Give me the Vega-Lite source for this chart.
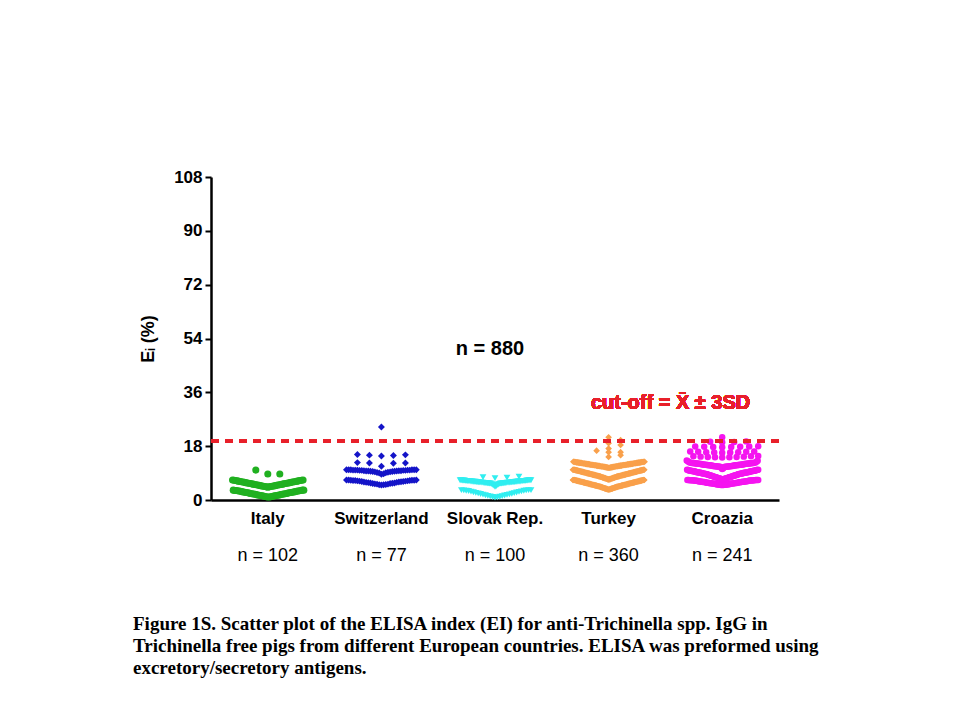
{
  "$schema": "https://vega.github.io/schema/vega-lite/v6.json",
  "width": 568,
  "height": 323,
  "autosize": {"type": "none"},
  "padding": {"left": 211, "top": 177, "right": 181, "bottom": 220},
  "background": "white",
  "config": {
    "view": {"stroke": null},
    "font": "Liberation Sans",
    "axis": {
      "grid": false,
      "domainColor": "black",
      "domainWidth": 2.5,
      "tickColor": "black",
      "tickWidth": 2,
      "labelColor": "black",
      "labelFont": "Liberation Sans",
      "labelFontWeight": "bold",
      "labelFontSize": 17,
      "titleColor": "black",
      "titleFont": "Liberation Sans",
      "titleFontWeight": "bold",
      "titleFontSize": 18
    }
  },
  "title": {
    "text": [
      "Figure 1S. Scatter plot of the ELISA index (EI) for anti-Trichinella spp. IgG in",
      "Trichinella free pigs from different European countries. ELISA was preformed using",
      "excretory/secretory antigens."
    ],
    "orient": "bottom",
    "anchor": "start",
    "frame": "group",
    "dx": -78,
    "offset": 50,
    "font": "Liberation Serif",
    "fontSize": 19,
    "fontWeight": "bold",
    "lineHeight": 22,
    "color": "black"
  },
  "data": {
    "values": [
      {"g":"Italy","v":1},{"g":"Italy","v":1},{"g":"Italy","v":1.1},{"g":"Italy","v":1.1},{"g":"Italy","v":1.2},{"g":"Italy","v":1.2},{"g":"Italy","v":1.3},{"g":"Italy","v":1.3},{"g":"Italy","v":1.4},{"g":"Italy","v":1.4},
      {"g":"Italy","v":1.5},{"g":"Italy","v":1.5},{"g":"Italy","v":1.6},{"g":"Italy","v":1.6},{"g":"Italy","v":1.7},{"g":"Italy","v":1.7},{"g":"Italy","v":1.8},{"g":"Italy","v":1.8},{"g":"Italy","v":1.9},{"g":"Italy","v":1.9},
      {"g":"Italy","v":2},{"g":"Italy","v":2},{"g":"Italy","v":2.1},{"g":"Italy","v":2.1},{"g":"Italy","v":2.2},{"g":"Italy","v":2.2},{"g":"Italy","v":2.3},{"g":"Italy","v":2.3},{"g":"Italy","v":2.4},{"g":"Italy","v":2.4},
      {"g":"Italy","v":2.5},{"g":"Italy","v":2.5},{"g":"Italy","v":2.6},{"g":"Italy","v":2.6},{"g":"Italy","v":2.7},{"g":"Italy","v":2.7},{"g":"Italy","v":2.8},{"g":"Italy","v":2.8},{"g":"Italy","v":2.9},{"g":"Italy","v":2.9},
      {"g":"Italy","v":3},{"g":"Italy","v":3},{"g":"Italy","v":3.1},{"g":"Italy","v":3.1},{"g":"Italy","v":3.2},{"g":"Italy","v":3.2},{"g":"Italy","v":3.2},{"g":"Italy","v":3.3},{"g":"Italy","v":3.3},{"g":"Italy","v":3.3},
      {"g":"Italy","v":4.3},{"g":"Italy","v":4.4},{"g":"Italy","v":4.4},{"g":"Italy","v":4.5},{"g":"Italy","v":4.5},{"g":"Italy","v":4.6},{"g":"Italy","v":4.6},{"g":"Italy","v":4.7},{"g":"Italy","v":4.7},{"g":"Italy","v":4.8},
      {"g":"Italy","v":4.8},{"g":"Italy","v":4.9},{"g":"Italy","v":4.9},{"g":"Italy","v":5},{"g":"Italy","v":5},{"g":"Italy","v":5.1},{"g":"Italy","v":5.1},{"g":"Italy","v":5.2},{"g":"Italy","v":5.2},{"g":"Italy","v":5.3},
      {"g":"Italy","v":5.3},{"g":"Italy","v":5.4},{"g":"Italy","v":5.4},{"g":"Italy","v":5.5},{"g":"Italy","v":5.5},{"g":"Italy","v":5.6},{"g":"Italy","v":5.6},{"g":"Italy","v":5.7},{"g":"Italy","v":5.7},{"g":"Italy","v":5.8},
      {"g":"Italy","v":5.8},{"g":"Italy","v":5.9},{"g":"Italy","v":5.9},{"g":"Italy","v":6},{"g":"Italy","v":6},{"g":"Italy","v":6.1},{"g":"Italy","v":6.1},{"g":"Italy","v":6.2},{"g":"Italy","v":6.2},{"g":"Italy","v":6.3},
      {"g":"Italy","v":6.3},{"g":"Italy","v":6.4},{"g":"Italy","v":6.4},{"g":"Italy","v":6.5},{"g":"Italy","v":6.5},{"g":"Italy","v":6.6},{"g":"Italy","v":6.6},{"g":"Italy","v":6.7},{"g":"Italy","v":6.7},
      {"g":"Italy","v":8.7},{"g":"Italy","v":8.7},{"g":"Italy","v":10},

      {"g":"Switzerland","v":5},{"g":"Switzerland","v":5.1},{"g":"Switzerland","v":5.1},{"g":"Switzerland","v":5.2},{"g":"Switzerland","v":5.3},{"g":"Switzerland","v":5.3},{"g":"Switzerland","v":5.4},{"g":"Switzerland","v":5.5},{"g":"Switzerland","v":5.5},{"g":"Switzerland","v":5.6},
      {"g":"Switzerland","v":5.7},{"g":"Switzerland","v":5.7},{"g":"Switzerland","v":5.8},{"g":"Switzerland","v":5.9},{"g":"Switzerland","v":5.9},{"g":"Switzerland","v":6},{"g":"Switzerland","v":6},{"g":"Switzerland","v":6.1},{"g":"Switzerland","v":6.2},{"g":"Switzerland","v":6.2},
      {"g":"Switzerland","v":6.3},{"g":"Switzerland","v":6.3},{"g":"Switzerland","v":6.4},{"g":"Switzerland","v":6.4},{"g":"Switzerland","v":6.5},{"g":"Switzerland","v":6.5},{"g":"Switzerland","v":6.5},{"g":"Switzerland","v":6.6},{"g":"Switzerland","v":6.6},{"g":"Switzerland","v":6.6},
      {"g":"Switzerland","v":6.7},{"g":"Switzerland","v":6.7},{"g":"Switzerland","v":6.7},
      {"g":"Switzerland","v":8.6},{"g":"Switzerland","v":8.8},{"g":"Switzerland","v":9},{"g":"Switzerland","v":9.1},{"g":"Switzerland","v":9.2},{"g":"Switzerland","v":9.3},{"g":"Switzerland","v":9.4},{"g":"Switzerland","v":9.4},{"g":"Switzerland","v":9.5},{"g":"Switzerland","v":9.5},
      {"g":"Switzerland","v":9.6},{"g":"Switzerland","v":9.6},{"g":"Switzerland","v":9.7},{"g":"Switzerland","v":9.7},{"g":"Switzerland","v":9.7},{"g":"Switzerland","v":9.8},{"g":"Switzerland","v":9.8},{"g":"Switzerland","v":9.8},{"g":"Switzerland","v":9.9},{"g":"Switzerland","v":9.9},
      {"g":"Switzerland","v":9.9},{"g":"Switzerland","v":9.9},{"g":"Switzerland","v":10},{"g":"Switzerland","v":10},{"g":"Switzerland","v":10},{"g":"Switzerland","v":10},{"g":"Switzerland","v":10},{"g":"Switzerland","v":10.1},{"g":"Switzerland","v":10.1},{"g":"Switzerland","v":10.1},
      {"g":"Switzerland","v":10.1},{"g":"Switzerland","v":10.1},{"g":"Switzerland","v":10.1},
      {"g":"Switzerland","v":11.3},{"g":"Switzerland","v":12.3},{"g":"Switzerland","v":12.4},{"g":"Switzerland","v":12.4},{"g":"Switzerland","v":12.5},
      {"g":"Switzerland","v":14.7},{"g":"Switzerland","v":14.9},{"g":"Switzerland","v":15},{"g":"Switzerland","v":15.1},{"g":"Switzerland","v":15.2},
      {"g":"Switzerland","v":24.4},

      {"g":"Slovak Rep.","v":0.8},{"g":"Slovak Rep.","v":0.9},{"g":"Slovak Rep.","v":1},{"g":"Slovak Rep.","v":1.1},{"g":"Slovak Rep.","v":1.2},{"g":"Slovak Rep.","v":1.3},{"g":"Slovak Rep.","v":1.4},{"g":"Slovak Rep.","v":1.5},{"g":"Slovak Rep.","v":1.6},{"g":"Slovak Rep.","v":1.7},
      {"g":"Slovak Rep.","v":1.8},{"g":"Slovak Rep.","v":1.9},{"g":"Slovak Rep.","v":2},{"g":"Slovak Rep.","v":2.1},{"g":"Slovak Rep.","v":2.2},{"g":"Slovak Rep.","v":2.3},{"g":"Slovak Rep.","v":2.4},{"g":"Slovak Rep.","v":2.5},{"g":"Slovak Rep.","v":2.6},{"g":"Slovak Rep.","v":2.7},
      {"g":"Slovak Rep.","v":2.8},{"g":"Slovak Rep.","v":2.9},{"g":"Slovak Rep.","v":3},{"g":"Slovak Rep.","v":3.1},{"g":"Slovak Rep.","v":3.1},{"g":"Slovak Rep.","v":3.2},{"g":"Slovak Rep.","v":3.2},{"g":"Slovak Rep.","v":3.3},{"g":"Slovak Rep.","v":3.3},{"g":"Slovak Rep.","v":3.3},
      {"g":"Slovak Rep.","v":4.4},{"g":"Slovak Rep.","v":4.6},{"g":"Slovak Rep.","v":4.8},{"g":"Slovak Rep.","v":5},{"g":"Slovak Rep.","v":5.1},{"g":"Slovak Rep.","v":5.2},{"g":"Slovak Rep.","v":5.3},{"g":"Slovak Rep.","v":5.4},
      {"g":"Slovak Rep.","v":5.5},{"g":"Slovak Rep.","v":5.5},{"g":"Slovak Rep.","v":5.5},{"g":"Slovak Rep.","v":5.5},{"g":"Slovak Rep.","v":5.6},{"g":"Slovak Rep.","v":5.6},{"g":"Slovak Rep.","v":5.6},{"g":"Slovak Rep.","v":5.6},
      {"g":"Slovak Rep.","v":5.7},{"g":"Slovak Rep.","v":5.7},{"g":"Slovak Rep.","v":5.7},{"g":"Slovak Rep.","v":5.7},{"g":"Slovak Rep.","v":5.7},{"g":"Slovak Rep.","v":5.8},{"g":"Slovak Rep.","v":5.8},{"g":"Slovak Rep.","v":5.8},{"g":"Slovak Rep.","v":5.8},{"g":"Slovak Rep.","v":5.8},
      {"g":"Slovak Rep.","v":5.9},{"g":"Slovak Rep.","v":5.9},{"g":"Slovak Rep.","v":5.9},{"g":"Slovak Rep.","v":5.9},{"g":"Slovak Rep.","v":5.9},{"g":"Slovak Rep.","v":6},{"g":"Slovak Rep.","v":6},{"g":"Slovak Rep.","v":6},{"g":"Slovak Rep.","v":6},{"g":"Slovak Rep.","v":6},
      {"g":"Slovak Rep.","v":6.1},{"g":"Slovak Rep.","v":6.1},{"g":"Slovak Rep.","v":6.1},{"g":"Slovak Rep.","v":6.1},{"g":"Slovak Rep.","v":6.1},{"g":"Slovak Rep.","v":6.2},{"g":"Slovak Rep.","v":6.2},{"g":"Slovak Rep.","v":6.2},{"g":"Slovak Rep.","v":6.2},{"g":"Slovak Rep.","v":6.2},
      {"g":"Slovak Rep.","v":6.3},{"g":"Slovak Rep.","v":6.3},{"g":"Slovak Rep.","v":6.3},{"g":"Slovak Rep.","v":6.3},{"g":"Slovak Rep.","v":6.3},{"g":"Slovak Rep.","v":6.4},{"g":"Slovak Rep.","v":6.4},{"g":"Slovak Rep.","v":6.4},{"g":"Slovak Rep.","v":6.4},{"g":"Slovak Rep.","v":6.4},
      {"g":"Slovak Rep.","v":6.5},{"g":"Slovak Rep.","v":6.5},{"g":"Slovak Rep.","v":6.5},{"g":"Slovak Rep.","v":6.5},{"g":"Slovak Rep.","v":6.5},{"g":"Slovak Rep.","v":6.6},{"g":"Slovak Rep.","v":6.6},{"g":"Slovak Rep.","v":6.6},{"g":"Slovak Rep.","v":6.6},{"g":"Slovak Rep.","v":6.6},
      {"g":"Slovak Rep.","v":7.3},{"g":"Slovak Rep.","v":7.5},{"g":"Slovak Rep.","v":7.6},{"g":"Slovak Rep.","v":7.8},

      {"g":"Turkey","v":3.5},{"g":"Turkey","v":3.5},{"g":"Turkey","v":3.5},{"g":"Turkey","v":3.6},{"g":"Turkey","v":3.6},{"g":"Turkey","v":3.6},{"g":"Turkey","v":3.7},{"g":"Turkey","v":3.7},{"g":"Turkey","v":3.7},{"g":"Turkey","v":3.8},
      {"g":"Turkey","v":3.8},{"g":"Turkey","v":3.8},{"g":"Turkey","v":3.9},{"g":"Turkey","v":3.9},{"g":"Turkey","v":3.9},{"g":"Turkey","v":4},{"g":"Turkey","v":4},{"g":"Turkey","v":4},{"g":"Turkey","v":4.1},{"g":"Turkey","v":4.1},
      {"g":"Turkey","v":4.1},{"g":"Turkey","v":4.2},{"g":"Turkey","v":4.2},{"g":"Turkey","v":4.2},{"g":"Turkey","v":4.3},{"g":"Turkey","v":4.3},{"g":"Turkey","v":4.3},{"g":"Turkey","v":4.4},{"g":"Turkey","v":4.4},{"g":"Turkey","v":4.4},
      {"g":"Turkey","v":4.5},{"g":"Turkey","v":4.5},{"g":"Turkey","v":4.5},{"g":"Turkey","v":4.5},{"g":"Turkey","v":4.6},{"g":"Turkey","v":4.6},{"g":"Turkey","v":4.6},{"g":"Turkey","v":4.6},{"g":"Turkey","v":4.7},{"g":"Turkey","v":4.7},
      {"g":"Turkey","v":4.7},{"g":"Turkey","v":4.7},{"g":"Turkey","v":4.8},{"g":"Turkey","v":4.8},{"g":"Turkey","v":4.8},{"g":"Turkey","v":4.8},{"g":"Turkey","v":4.9},{"g":"Turkey","v":4.9},{"g":"Turkey","v":4.9},{"g":"Turkey","v":4.9},
      {"g":"Turkey","v":5},{"g":"Turkey","v":5},{"g":"Turkey","v":5},{"g":"Turkey","v":5},{"g":"Turkey","v":5.1},{"g":"Turkey","v":5.1},{"g":"Turkey","v":5.1},{"g":"Turkey","v":5.1},{"g":"Turkey","v":5.2},{"g":"Turkey","v":5.2},
      {"g":"Turkey","v":5.2},{"g":"Turkey","v":5.2},{"g":"Turkey","v":5.3},{"g":"Turkey","v":5.3},{"g":"Turkey","v":5.3},{"g":"Turkey","v":5.3},{"g":"Turkey","v":5.4},{"g":"Turkey","v":5.4},{"g":"Turkey","v":5.4},{"g":"Turkey","v":5.4},
      {"g":"Turkey","v":5.5},{"g":"Turkey","v":5.5},{"g":"Turkey","v":5.5},{"g":"Turkey","v":5.5},{"g":"Turkey","v":5.6},{"g":"Turkey","v":5.6},{"g":"Turkey","v":5.6},{"g":"Turkey","v":5.6},{"g":"Turkey","v":5.7},{"g":"Turkey","v":5.7},
      {"g":"Turkey","v":5.7},{"g":"Turkey","v":5.7},{"g":"Turkey","v":5.8},{"g":"Turkey","v":5.8},{"g":"Turkey","v":5.8},{"g":"Turkey","v":5.8},{"g":"Turkey","v":5.9},{"g":"Turkey","v":5.9},{"g":"Turkey","v":5.9},{"g":"Turkey","v":5.9},
      {"g":"Turkey","v":6},{"g":"Turkey","v":6},{"g":"Turkey","v":6},{"g":"Turkey","v":6},{"g":"Turkey","v":6.1},{"g":"Turkey","v":6.1},{"g":"Turkey","v":6.1},{"g":"Turkey","v":6.1},{"g":"Turkey","v":6.2},{"g":"Turkey","v":6.2},
      {"g":"Turkey","v":6.2},{"g":"Turkey","v":6.2},{"g":"Turkey","v":6.3},{"g":"Turkey","v":6.3},{"g":"Turkey","v":6.3},{"g":"Turkey","v":6.3},{"g":"Turkey","v":6.4},{"g":"Turkey","v":6.4},{"g":"Turkey","v":6.4},{"g":"Turkey","v":6.4},
      {"g":"Turkey","v":6.5},{"g":"Turkey","v":6.5},{"g":"Turkey","v":6.5},{"g":"Turkey","v":6.5},{"g":"Turkey","v":6.6},{"g":"Turkey","v":6.6},{"g":"Turkey","v":6.6},{"g":"Turkey","v":6.6},{"g":"Turkey","v":6.7},{"g":"Turkey","v":6.7},
      {"g":"Turkey","v":6.7},{"g":"Turkey","v":6.7},{"g":"Turkey","v":6.7},{"g":"Turkey","v":6.7},{"g":"Turkey","v":6.7},
      {"g":"Turkey","v":6.9},{"g":"Turkey","v":6.9},{"g":"Turkey","v":6.9},{"g":"Turkey","v":7},{"g":"Turkey","v":7},{"g":"Turkey","v":7},{"g":"Turkey","v":7.1},{"g":"Turkey","v":7.1},{"g":"Turkey","v":7.1},{"g":"Turkey","v":7.2},
      {"g":"Turkey","v":7.2},{"g":"Turkey","v":7.2},{"g":"Turkey","v":7.3},{"g":"Turkey","v":7.3},{"g":"Turkey","v":7.3},{"g":"Turkey","v":7.4},{"g":"Turkey","v":7.4},{"g":"Turkey","v":7.4},{"g":"Turkey","v":7.5},{"g":"Turkey","v":7.5},
      {"g":"Turkey","v":7.5},{"g":"Turkey","v":7.6},{"g":"Turkey","v":7.6},{"g":"Turkey","v":7.6},{"g":"Turkey","v":7.7},{"g":"Turkey","v":7.7},{"g":"Turkey","v":7.7},{"g":"Turkey","v":7.8},{"g":"Turkey","v":7.8},{"g":"Turkey","v":7.8},
      {"g":"Turkey","v":7.9},{"g":"Turkey","v":7.9},{"g":"Turkey","v":7.9},{"g":"Turkey","v":7.9},{"g":"Turkey","v":8},{"g":"Turkey","v":8},{"g":"Turkey","v":8},{"g":"Turkey","v":8},{"g":"Turkey","v":8.1},{"g":"Turkey","v":8.1},
      {"g":"Turkey","v":8.1},{"g":"Turkey","v":8.1},{"g":"Turkey","v":8.2},{"g":"Turkey","v":8.2},{"g":"Turkey","v":8.2},{"g":"Turkey","v":8.2},{"g":"Turkey","v":8.3},{"g":"Turkey","v":8.3},{"g":"Turkey","v":8.3},{"g":"Turkey","v":8.3},
      {"g":"Turkey","v":8.4},{"g":"Turkey","v":8.4},{"g":"Turkey","v":8.4},{"g":"Turkey","v":8.4},{"g":"Turkey","v":8.5},{"g":"Turkey","v":8.5},{"g":"Turkey","v":8.5},{"g":"Turkey","v":8.5},{"g":"Turkey","v":8.6},{"g":"Turkey","v":8.6},
      {"g":"Turkey","v":8.6},{"g":"Turkey","v":8.6},{"g":"Turkey","v":8.7},{"g":"Turkey","v":8.7},{"g":"Turkey","v":8.7},{"g":"Turkey","v":8.7},{"g":"Turkey","v":8.8},{"g":"Turkey","v":8.8},{"g":"Turkey","v":8.8},{"g":"Turkey","v":8.8},
      {"g":"Turkey","v":8.9},{"g":"Turkey","v":8.9},{"g":"Turkey","v":8.9},{"g":"Turkey","v":8.9},{"g":"Turkey","v":9},{"g":"Turkey","v":9},{"g":"Turkey","v":9},{"g":"Turkey","v":9},{"g":"Turkey","v":9.1},{"g":"Turkey","v":9.1},
      {"g":"Turkey","v":9.1},{"g":"Turkey","v":9.1},{"g":"Turkey","v":9.2},{"g":"Turkey","v":9.2},{"g":"Turkey","v":9.2},{"g":"Turkey","v":9.2},{"g":"Turkey","v":9.3},{"g":"Turkey","v":9.3},{"g":"Turkey","v":9.3},{"g":"Turkey","v":9.3},
      {"g":"Turkey","v":9.4},{"g":"Turkey","v":9.4},{"g":"Turkey","v":9.4},{"g":"Turkey","v":9.4},{"g":"Turkey","v":9.5},{"g":"Turkey","v":9.5},{"g":"Turkey","v":9.5},{"g":"Turkey","v":9.5},{"g":"Turkey","v":9.6},{"g":"Turkey","v":9.6},
      {"g":"Turkey","v":9.6},{"g":"Turkey","v":9.6},{"g":"Turkey","v":9.7},{"g":"Turkey","v":9.7},{"g":"Turkey","v":9.7},{"g":"Turkey","v":9.7},{"g":"Turkey","v":9.8},{"g":"Turkey","v":9.8},{"g":"Turkey","v":9.8},{"g":"Turkey","v":9.8},
      {"g":"Turkey","v":9.9},{"g":"Turkey","v":9.9},{"g":"Turkey","v":9.9},{"g":"Turkey","v":9.9},{"g":"Turkey","v":10},{"g":"Turkey","v":10},{"g":"Turkey","v":10},{"g":"Turkey","v":10},{"g":"Turkey","v":10.1},{"g":"Turkey","v":10.1},
      {"g":"Turkey","v":10.1},{"g":"Turkey","v":10.1},{"g":"Turkey","v":10.1},{"g":"Turkey","v":10.1},{"g":"Turkey","v":10.1},
      {"g":"Turkey","v":10.8},{"g":"Turkey","v":10.8},{"g":"Turkey","v":10.8},{"g":"Turkey","v":10.8},{"g":"Turkey","v":10.9},{"g":"Turkey","v":10.9},{"g":"Turkey","v":10.9},{"g":"Turkey","v":10.9},
      {"g":"Turkey","v":11},{"g":"Turkey","v":11},{"g":"Turkey","v":11},{"g":"Turkey","v":11},{"g":"Turkey","v":11.1},{"g":"Turkey","v":11.1},{"g":"Turkey","v":11.1},{"g":"Turkey","v":11.1},
      {"g":"Turkey","v":11.2},{"g":"Turkey","v":11.2},{"g":"Turkey","v":11.2},{"g":"Turkey","v":11.2},{"g":"Turkey","v":11.2},{"g":"Turkey","v":11.3},{"g":"Turkey","v":11.3},{"g":"Turkey","v":11.3},{"g":"Turkey","v":11.3},{"g":"Turkey","v":11.3},
      {"g":"Turkey","v":11.4},{"g":"Turkey","v":11.4},{"g":"Turkey","v":11.4},{"g":"Turkey","v":11.4},{"g":"Turkey","v":11.4},{"g":"Turkey","v":11.5},{"g":"Turkey","v":11.5},{"g":"Turkey","v":11.5},{"g":"Turkey","v":11.5},{"g":"Turkey","v":11.5},
      {"g":"Turkey","v":11.6},{"g":"Turkey","v":11.6},{"g":"Turkey","v":11.6},{"g":"Turkey","v":11.6},{"g":"Turkey","v":11.6},{"g":"Turkey","v":11.7},{"g":"Turkey","v":11.7},{"g":"Turkey","v":11.7},{"g":"Turkey","v":11.7},{"g":"Turkey","v":11.7},
      {"g":"Turkey","v":11.8},{"g":"Turkey","v":11.8},{"g":"Turkey","v":11.8},{"g":"Turkey","v":11.8},{"g":"Turkey","v":11.8},{"g":"Turkey","v":11.9},{"g":"Turkey","v":11.9},{"g":"Turkey","v":11.9},{"g":"Turkey","v":11.9},{"g":"Turkey","v":11.9},
      {"g":"Turkey","v":12},{"g":"Turkey","v":12},{"g":"Turkey","v":12},{"g":"Turkey","v":12},{"g":"Turkey","v":12},{"g":"Turkey","v":12.1},{"g":"Turkey","v":12.1},{"g":"Turkey","v":12.1},{"g":"Turkey","v":12.1},{"g":"Turkey","v":12.1},
      {"g":"Turkey","v":12.2},{"g":"Turkey","v":12.2},{"g":"Turkey","v":12.2},{"g":"Turkey","v":12.2},{"g":"Turkey","v":12.2},{"g":"Turkey","v":12.3},{"g":"Turkey","v":12.3},{"g":"Turkey","v":12.3},{"g":"Turkey","v":12.3},{"g":"Turkey","v":12.3},
      {"g":"Turkey","v":12.4},{"g":"Turkey","v":12.4},{"g":"Turkey","v":12.4},{"g":"Turkey","v":12.4},{"g":"Turkey","v":12.4},{"g":"Turkey","v":12.5},{"g":"Turkey","v":12.5},{"g":"Turkey","v":12.5},{"g":"Turkey","v":12.5},{"g":"Turkey","v":12.5},
      {"g":"Turkey","v":12.6},{"g":"Turkey","v":12.6},{"g":"Turkey","v":12.6},{"g":"Turkey","v":12.6},{"g":"Turkey","v":12.6},{"g":"Turkey","v":12.7},{"g":"Turkey","v":12.7},{"g":"Turkey","v":12.7},{"g":"Turkey","v":12.7},{"g":"Turkey","v":12.7},
      {"g":"Turkey","v":12.8},{"g":"Turkey","v":12.8},{"g":"Turkey","v":12.8},{"g":"Turkey","v":12.8},
      {"g":"Turkey","v":14.4},{"g":"Turkey","v":15},{"g":"Turkey","v":16},{"g":"Turkey","v":16},{"g":"Turkey","v":16.5},{"g":"Turkey","v":17.2},{"g":"Turkey","v":18.4},{"g":"Turkey","v":19},{"g":"Turkey","v":20},{"g":"Turkey","v":21},

      {"g":"Croazia","v":5},{"g":"Croazia","v":5},{"g":"Croazia","v":5},{"g":"Croazia","v":5.1},{"g":"Croazia","v":5.1},{"g":"Croazia","v":5.1},{"g":"Croazia","v":5.2},{"g":"Croazia","v":5.2},{"g":"Croazia","v":5.2},{"g":"Croazia","v":5.3},
      {"g":"Croazia","v":5.3},{"g":"Croazia","v":5.3},{"g":"Croazia","v":5.4},{"g":"Croazia","v":5.4},{"g":"Croazia","v":5.4},{"g":"Croazia","v":5.5},{"g":"Croazia","v":5.5},{"g":"Croazia","v":5.5},{"g":"Croazia","v":5.6},{"g":"Croazia","v":5.6},
      {"g":"Croazia","v":5.6},{"g":"Croazia","v":5.7},{"g":"Croazia","v":5.7},{"g":"Croazia","v":5.7},{"g":"Croazia","v":5.8},{"g":"Croazia","v":5.8},{"g":"Croazia","v":5.8},{"g":"Croazia","v":5.9},{"g":"Croazia","v":5.9},{"g":"Croazia","v":5.9},
      {"g":"Croazia","v":6},{"g":"Croazia","v":6},{"g":"Croazia","v":6},{"g":"Croazia","v":6.1},{"g":"Croazia","v":6.1},{"g":"Croazia","v":6.1},{"g":"Croazia","v":6.2},{"g":"Croazia","v":6.2},{"g":"Croazia","v":6.2},{"g":"Croazia","v":6.3},
      {"g":"Croazia","v":6.3},{"g":"Croazia","v":6.3},{"g":"Croazia","v":6.4},{"g":"Croazia","v":6.4},{"g":"Croazia","v":6.4},{"g":"Croazia","v":6.5},{"g":"Croazia","v":6.5},{"g":"Croazia","v":6.5},{"g":"Croazia","v":6.5},{"g":"Croazia","v":6.5},
      {"g":"Croazia","v":6.6},{"g":"Croazia","v":6.6},{"g":"Croazia","v":6.6},{"g":"Croazia","v":6.6},{"g":"Croazia","v":6.6},{"g":"Croazia","v":6.7},{"g":"Croazia","v":6.7},{"g":"Croazia","v":6.7},{"g":"Croazia","v":6.7},{"g":"Croazia","v":6.7},
      {"g":"Croazia","v":6.9},{"g":"Croazia","v":6.9},{"g":"Croazia","v":7},{"g":"Croazia","v":7},{"g":"Croazia","v":7.1},{"g":"Croazia","v":7.1},{"g":"Croazia","v":7.2},{"g":"Croazia","v":7.2},{"g":"Croazia","v":7.3},{"g":"Croazia","v":7.3},
      {"g":"Croazia","v":7.4},{"g":"Croazia","v":7.4},{"g":"Croazia","v":7.5},{"g":"Croazia","v":7.5},{"g":"Croazia","v":7.6},{"g":"Croazia","v":7.6},{"g":"Croazia","v":7.7},{"g":"Croazia","v":7.7},{"g":"Croazia","v":7.8},{"g":"Croazia","v":7.8},
      {"g":"Croazia","v":7.9},{"g":"Croazia","v":7.9},{"g":"Croazia","v":8},{"g":"Croazia","v":8},{"g":"Croazia","v":8.1},{"g":"Croazia","v":8.1},{"g":"Croazia","v":8.2},{"g":"Croazia","v":8.2},{"g":"Croazia","v":8.3},{"g":"Croazia","v":8.3},
      {"g":"Croazia","v":8.4},{"g":"Croazia","v":8.4},{"g":"Croazia","v":8.5},{"g":"Croazia","v":8.5},{"g":"Croazia","v":8.6},{"g":"Croazia","v":8.6},
      {"g":"Croazia","v":8.7},{"g":"Croazia","v":8.7},{"g":"Croazia","v":8.7},{"g":"Croazia","v":8.8},{"g":"Croazia","v":8.8},{"g":"Croazia","v":8.8},{"g":"Croazia","v":8.9},{"g":"Croazia","v":8.9},{"g":"Croazia","v":8.9},{"g":"Croazia","v":9},
      {"g":"Croazia","v":9},{"g":"Croazia","v":9},{"g":"Croazia","v":9.1},{"g":"Croazia","v":9.1},{"g":"Croazia","v":9.1},{"g":"Croazia","v":9.2},{"g":"Croazia","v":9.2},{"g":"Croazia","v":9.2},{"g":"Croazia","v":9.3},{"g":"Croazia","v":9.3},
      {"g":"Croazia","v":9.3},{"g":"Croazia","v":9.4},{"g":"Croazia","v":9.4},{"g":"Croazia","v":9.4},{"g":"Croazia","v":9.5},{"g":"Croazia","v":9.5},{"g":"Croazia","v":9.5},{"g":"Croazia","v":9.6},{"g":"Croazia","v":9.6},{"g":"Croazia","v":9.6},
      {"g":"Croazia","v":9.7},{"g":"Croazia","v":9.7},{"g":"Croazia","v":9.7},{"g":"Croazia","v":9.8},{"g":"Croazia","v":9.8},{"g":"Croazia","v":9.8},{"g":"Croazia","v":9.9},{"g":"Croazia","v":9.9},{"g":"Croazia","v":9.9},{"g":"Croazia","v":10},
      {"g":"Croazia","v":10},{"g":"Croazia","v":10},{"g":"Croazia","v":10.1},{"g":"Croazia","v":10.1},
      {"g":"Croazia","v":10.4},{"g":"Croazia","v":10.6},{"g":"Croazia","v":10.8},{"g":"Croazia","v":11},
      {"g":"Croazia","v":11.1},{"g":"Croazia","v":11.1},{"g":"Croazia","v":11.1},{"g":"Croazia","v":11.1},{"g":"Croazia","v":11.2},{"g":"Croazia","v":11.2},{"g":"Croazia","v":11.2},{"g":"Croazia","v":11.2},{"g":"Croazia","v":11.3},{"g":"Croazia","v":11.3},
      {"g":"Croazia","v":11.3},{"g":"Croazia","v":11.3},{"g":"Croazia","v":11.4},{"g":"Croazia","v":11.4},{"g":"Croazia","v":11.4},{"g":"Croazia","v":11.4},{"g":"Croazia","v":11.5},{"g":"Croazia","v":11.5},{"g":"Croazia","v":11.5},{"g":"Croazia","v":11.5},
      {"g":"Croazia","v":11.6},{"g":"Croazia","v":11.6},{"g":"Croazia","v":11.6},{"g":"Croazia","v":11.6},{"g":"Croazia","v":11.7},{"g":"Croazia","v":11.7},{"g":"Croazia","v":11.7},{"g":"Croazia","v":11.7},{"g":"Croazia","v":11.8},{"g":"Croazia","v":11.8},
      {"g":"Croazia","v":11.8},{"g":"Croazia","v":11.8},{"g":"Croazia","v":11.9},{"g":"Croazia","v":11.9},{"g":"Croazia","v":11.9},{"g":"Croazia","v":11.9},{"g":"Croazia","v":12},{"g":"Croazia","v":12},{"g":"Croazia","v":12},{"g":"Croazia","v":12},
      {"g":"Croazia","v":12.1},{"g":"Croazia","v":12.1},{"g":"Croazia","v":12.1},{"g":"Croazia","v":12.1},{"g":"Croazia","v":12.2},{"g":"Croazia","v":12.2},{"g":"Croazia","v":12.2},{"g":"Croazia","v":12.2},{"g":"Croazia","v":12.3},{"g":"Croazia","v":12.3},
      {"g":"Croazia","v":12.3},{"g":"Croazia","v":12.3},{"g":"Croazia","v":12.4},{"g":"Croazia","v":12.4},{"g":"Croazia","v":12.4},{"g":"Croazia","v":12.4},{"g":"Croazia","v":12.5},{"g":"Croazia","v":12.5},{"g":"Croazia","v":12.5},{"g":"Croazia","v":12.5},
      {"g":"Croazia","v":12.7},{"g":"Croazia","v":12.9},{"g":"Croazia","v":13},{"g":"Croazia","v":13.1},{"g":"Croazia","v":13.2},
      {"g":"Croazia","v":14.2},{"g":"Croazia","v":14.3},{"g":"Croazia","v":14.3},{"g":"Croazia","v":14.4},{"g":"Croazia","v":14.4},{"g":"Croazia","v":14.5},{"g":"Croazia","v":14.5},{"g":"Croazia","v":14.6},{"g":"Croazia","v":14.6},{"g":"Croazia","v":14.7},
      {"g":"Croazia","v":15.8},{"g":"Croazia","v":15.9},{"g":"Croazia","v":15.9},{"g":"Croazia","v":16},{"g":"Croazia","v":16},{"g":"Croazia","v":16.1},{"g":"Croazia","v":16.1},{"g":"Croazia","v":16.2},{"g":"Croazia","v":16.2},
      {"g":"Croazia","v":17.6},{"g":"Croazia","v":17.7},{"g":"Croazia","v":17.7},{"g":"Croazia","v":17.8},{"g":"Croazia","v":17.8},{"g":"Croazia","v":17.9},{"g":"Croazia","v":17.9},{"g":"Croazia","v":18},
      {"g":"Croazia","v":19.3},{"g":"Croazia","v":19.4},{"g":"Croazia","v":19.5},{"g":"Croazia","v":19.6},
      {"g":"Croazia","v":21}
    ]
  },
  "layer": [
    {
      "transform": [
        {"calculate": "datum.v < 13.6 ? floor(datum.v / 3.4) : 10 + floor(datum.v / 1.7)", "as": "row"},
        {
          "window": [{"op": "row_number", "as": "rk"}, {"op": "count", "as": "cnt"}],
          "groupby": ["g", "row"],
          "sort": [{"field": "v", "order": "ascending"}],
          "frame": [null, null]
        },
        {"calculate": "min(12, 72 / datum.cnt)", "as": "step"},
        {"calculate": "(datum.rk % 2 == 0 ? 1 : -1) * floor(datum.rk / 2) * datum.step", "as": "off"}
      ],
      "mark": {"type": "point", "filled": true, "opacity": 1, "strokeWidth": 0},
      "encoding": {
        "x": {
          "field": "g",
          "type": "nominal",
          "sort": null,
          "scale": {
            "domain": ["Italy", "Switzerland", "Slovak Rep.", "Turkey", "Croazia"],
            "paddingInner": 0,
            "paddingOuter": 0
          },
          "axis": {"title": null, "labelAngle": 0, "ticks": false, "tickSize": 0, "labelPadding": 10}
        },
        "xOffset": {
          "field": "off",
          "type": "quantitative",
          "scale": {"domain": [-56.8, 56.8], "range": [0, 113.6]}
        },
        "y": {
          "field": "v",
          "type": "quantitative",
          "scale": {"domain": [0, 108], "nice": false, "zero": true},
          "axis": {
            "values": [0, 18, 36, 54, 72, 90, 108],
            "title": "Eᵢ (%)",
            "tickSize": 6,
            "labelPadding": 3,
            "titlePadding": 16
          }
        },
        "color": {
          "field": "g",
          "type": "nominal",
          "scale": {
            "domain": ["Italy", "Switzerland", "Slovak Rep.", "Turkey", "Croazia"],
            "range": ["#20b020", "#1414c8", "#30eef0", "#f9a04b", "#f514f0"]
          },
          "legend": null
        },
        "shape": {
          "field": "g",
          "type": "nominal",
          "scale": {
            "domain": ["Italy", "Switzerland", "Slovak Rep.", "Turkey", "Croazia"],
            "range": ["circle", "diamond", "triangle-down", "diamond", "circle"]
          },
          "legend": null
        },
        "size": {
          "field": "g",
          "type": "ordinal",
          "scale": {
            "domain": ["Italy", "Switzerland", "Slovak Rep.", "Turkey", "Croazia"],
            "range": [50, 42, 34, 34, 56]
          },
          "legend": null
        }
      }
    },
    {
      "mark": {"type": "rule", "color": "#e8202a", "strokeWidth": 3, "strokeDash": [8, 6]},
      "encoding": {"y": {"datum": 19.7, "type": "quantitative"}}
    },
    {
      "transform": [
        {"aggregate": [{"op": "count", "as": "n"}], "groupby": ["g"]},
        {"calculate": "'n = ' + datum.n", "as": "lab"}
      ],
      "mark": {"type": "text", "fontSize": 18, "color": "black", "font": "Liberation Sans"},
      "encoding": {
        "x": {"field": "g", "type": "nominal"},
        "y": {"datum": -18.7, "type": "quantitative"},
        "text": {"field": "lab"}
      }
    },
    {
      "transform": [
        {"aggregate": [{"op": "count", "as": "n"}]},
        {"calculate": "'n = ' + datum.n", "as": "lab"}
      ],
      "mark": {"type": "text", "fontSize": 20, "fontWeight": "bold", "color": "black", "font": "Liberation Sans", "dx": -5},
      "encoding": {
        "x": {"datum": "Slovak Rep.", "type": "nominal"},
        "y": {"datum": 50.5, "type": "quantitative"},
        "text": {"field": "lab"}
      }
    },
    {
      "mark": {"type": "text", "fontSize": 20, "fontWeight": "bold", "color": "#e8202a", "font": "Liberation Sans", "dx": 62},
      "encoding": {
        "x": {"datum": "Turkey", "type": "nominal"},
        "y": {"datum": 32.4, "type": "quantitative"},
        "text": {"value": "cut-off = X̄ ± 3SD"}
      }
    }
  ]
}
